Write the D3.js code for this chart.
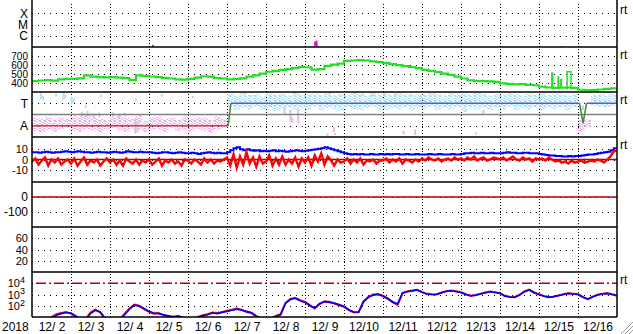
<!DOCTYPE html>
<html>
<head>
<meta charset="utf-8">
<script src="https://cdn.jsdelivr.net/npm/d3@7"></script>
<style>
  html, body { margin: 0; padding: 0; background: #fff; }
  svg { display: block; }
  text { font-family: "Liberation Sans", Arial, sans-serif; font-size: 12px; fill: #000; }
</style>
</head>
<body>
<div id="chart"></div>
<script>
// ---- data ----
const yearLabel = "2018";
const dayLabels = ["12/ 2","12/ 3","12/ 4","12/ 5","12/ 6","12/ 7","12/ 8","12/ 9","12/10","12/11","12/12","12/13","12/14","12/15","12/16"];
const labelDays = [0.5,1.5,2.5,3.5,4.5,5.5,6.5,7.5,8.5,9.5,10.5,11.5,12.5,13.5,14.5];
const gridDays = [1,2,3,4,5,6,7,8,9,10,11,12,13,14];

// panel 1: x-ray class
const xrayTicks = [1e-4, 1e-5, 1e-6];
const xrayTickLabels = ["X", "M", "C"];
const xrayDays = [0, 3.08, 3.1, 3.12, 7.24, 7.26, 7.28, 7.3, 7.32, 13.55, 13.57, 13.59, 15];
const xrayLog  = [-7.6, -7.5, -6.8, -7.5, -7.5, -6.5, -6.7, -6.55, -7.5, -7.6, -6.95, -7.6, -7.6];

// panel 2: solar wind speed, every 4 h
const speedTicks = [700, 600, 500, 400];
const speed = [
  420, 428, 432, 426, 440, 445,
  445, 452, 485, 470, 465, 462,
  465, 460, 455, 432, 485, 478,
  472, 465, 455, 450, 440, 438,
  445, 460, 475, 470, 455, 450,
  440, 445, 452, 470, 485, 505,
  525, 535, 545, 555, 565, 578,
  575, 548, 555, 590, 605, 615,
  645, 650, 655, 650, 640, 632,
  620, 610, 598, 588, 578, 565,
  545, 535, 520, 505, 490, 470,
  450, 430, 422, 420, 418, 412,
  395, 390, 385, 388, 380, 375,
  360, 350, 345, 348, 350, 345,
  325, 322, 320, 328, 335, 340,
  350
];
// spikes: [start day, end day, base, peak]
const speedSpikes = [[13.33, 13.35, 350, 511], [13.49, 13.5, 348, 467], [13.56, 13.57, 346, 440], [13.72, 13.82, 330, 526]];

// panel 3: field polarity (T / A)
const sectorTicks = [75, 25];
const sectorTickLabels = ["T", "A"];
const sectorDays   = [0, 5.03, 5.1, 14.04, 14.13, 14.22, 15];
const sectorValues = [25, 25, 75, 75, 31, 75, 75];
// 4-hour bins: [lo, hi]
const polarityBands = [
  [14,42],[10,40],[16,45],[12,38],[18,44],[20,40],
  [15,46],[12,44],[18,48],[14,42],[10,40],[16,38],
  [20,44],[14,46],[12,42],[18,40],[15,48],[10,36],
  [16,44],[18,46],[12,40],[20,42],[14,38],[16,45],
  [12,40],[18,44],[14,42],[10,38],[16,46],[20,40],
  [66,96],[60,92],[64,98],[62,94],[68,96],[60,90],
  [64,97],[58,94],[62,96],[66,92],[60,98],[64,94],
  [62,96],[68,95],[60,93],[64,98],[62,92],[58,96],
  [66,94],[62,98],[60,95],[64,92],[68,97],[62,94],
  [60,96],[64,93],[62,97],[66,95],[60,92],[64,96],
  [62,94],[68,98],[60,95],[64,92],[62,97],[66,94],
  [56,96],[64,93],[62,98],[66,95],[60,92],[64,96],
  [62,94],[68,97],[60,95],[64,92],[62,96],[66,94],
  [60,97],[64,93],[62,96],[66,95],[60,92],[64,96],
  [12,38],[20,38],[70,93],[68,95],[66,92],[70,96]
];
// sparse points: [day, lo, hi]
const extraT = [[0.2,84,98],[0.26,82,92],[0.59,90,96],[0.78,82,98],[0.82,86,94],[0.99,72,90],[1.04,76,86],[1.35,64,71],[1.75,88,94],[2.64,80,86],[3.3,90,95],[4.1,86,92]];
const extraA = [[6.65,32,44],[6.8,30,40],[7.72,11,22],[9.5,6,14],[9.8,4,16]];
const extraG = [[1.25,44,56],[1.4,46,58],[1.55,42,52],[1.7,44,54],[2.05,45,55],[2.2,42,50],[2.35,46,54],[2.62,8,42],[2.68,10,36],[6.45,50,66],[6.6,34,60],[6.8,40,62],[7.55,3,8],[7.75,4,9],[8.45,92,97],[8.7,90,96],[9.0,91,98],[9.3,92,97],[9.7,90,95],[11.36,6,10],[11.55,50,60],[14.1,60,70]];

// panel 4: Bt (blue) and Bz (red), every 2 h
const bTicks = [10, 0, -10];
const bt = [
  7,7,6.5,7,7.5,7,6.5,7,7,7.5,8,7.5,
  7,7.5,8,7.5,7,7,6.5,7,7.5,7,7,6.5,
  7,7.5,7,6.5,7,8,7.5,7,7,7.5,7,7,
  7,6.5,6,6.5,7,7,6.5,6,6.5,7,6.5,6,
  6,6.5,6,5.5,6,6.5,7,6.5,6,6.5,6,6,
  7,9,11,12,10,9,10,9,8.5,9,8,8.5,
  8,8.5,9,8,8.5,8,7.5,8,8.5,9,8.5,8,
  8.5,9,9.5,10,10.5,11,12,11,10,9,8,7,
  6,5.5,5,5.5,5,5.5,5,5,5.5,5,5,5.5,
  5,5.5,5,5.5,5.5,5,5,5.5,5,5,5.5,5,
  5,5,5.5,5,5,5.5,5,5,5,5.5,5,5,
  5.5,6,6,6.5,6,6,6.5,6,6,6.5,6,6,
  6,6.5,7,6.5,6.5,6,6,6.5,6.5,6,6,6,
  5.5,5,4.5,4,4,3.5,3.5,3,3,3.5,3,3.5,
  3.5,4,4.5,5,5,5.5,6,6.5,7,7.5,9,11,
  11
];
const bz = [
  -2,1,-5,-1,2,-6,0,-3,1,-5,-2,0,
  -4,1,-6,-2,2,-5,-1,-3,0,-6,-2,1,
  -3,0,-5,-1,-6,1,-2,-4,0,-5,-1,-3,
  0,-5,-2,1,-6,-1,-3,0,-4,-2,-6,0,
  -1,-4,0,-2,-5,1,-3,0,-4,-1,-2,0,
  2,-6,5,-8,3,-5,7,-4,2,-7,3,-4,
  -2,4,-6,1,-5,3,-5,0,-4,2,-7,1,
  -3,2,-6,4,-2,6,-5,3,-1,-6,0,-3,
  -2,1,-4,0,-3,1,-5,-1,-2,0,-4,-1,
  -1,1,-3,0,-2,1,-4,0,-1,-3,0,-2,
  1,-1,2,0,-1,1,-2,0,1,-1,2,0,
  1,-1,2,0,3,-1,1,2,-1,0,2,1,
  0,2,-1,1,3,0,-1,2,0,1,-2,1,
  0,1,-1,2,0,-2,-1,-3,-2,-4,-1,-3,
  -2,-1,-3,-2,-1,-2,0,-1,-3,0,3,8,
  9
];

// panel 5 and 6: scales only
const dstTicks = [0, -100];
const p6Ticks = [60, 40, 20];

// panel 7: electron flux (log10), every 3 h
const fluxTicks = [4, 3, 2];
const fluxBlue = [
  0.5,0.5,0.5,0.6,0.9,1.15,1.3,1.4,
  1.35,1.1,0.8,0.7,1.3,1.6,1.45,0.9,
  0.6,0.5,0.7,1.2,1.7,2.05,1.95,1.75,
  1.5,1.35,1.3,1.2,1.1,1.0,1.1,0.95,
  0.9,0.8,0.95,1.1,1.2,1.35,1.3,1.4,
  1.5,1.6,1.7,1.6,1.5,1.4,1.1,0.9,
  0.9,0.9,1.05,1.2,2.2,2.55,2.66,2.45,
  2.3,2.0,1.8,2.2,2.35,2.3,2.25,2.1,
  1.95,1.65,1.45,1.4,2.35,2.75,2.95,3.0,
  2.85,2.6,2.35,2.15,3.15,3.25,3.32,3.4,
  3.2,3.04,3.0,3.02,3.15,3.28,3.33,3.25,
  3.18,3.0,2.88,2.95,3.04,3.15,3.25,3.18,
  3.1,2.85,2.78,2.75,2.95,3.25,3.4,3.15,
  3.0,2.85,2.75,2.82,2.9,3.0,3.1,3.05,
  3.0,2.75,2.6,2.8,2.96,3.05,3.1,3.0,
  2.87
];
const fluxRed = [
  0.5,0.5,0.5,0.7,1.0,1.25,1.35,1.45,
  1.3,1.0,0.75,0.8,1.4,1.65,1.4,0.85,
  0.55,0.5,0.8,1.3,1.75,2.1,2.0,1.7,
  1.45,1.3,1.35,1.15,1.05,1.05,1.05,0.9,
  0.85,0.85,1.0,1.15,1.25,1.4,1.35,1.45,
  1.55,1.65,1.75,1.65,1.45,1.35,1.05,0.85,
  0.85,0.85,1.1,1.25,2.25,2.6,2.7,2.5,
  2.35,2.05,1.75,2.15,2.4,2.35,2.2,2.05,
  1.9,1.6,1.4,1.45,2.4,2.8,3.0,3.05,
  2.9,2.65,2.3,2.1,3.1,3.3,3.35,3.42,
  3.22,3.06,3.02,3.0,3.18,3.3,3.35,3.28,
  3.2,3.02,2.9,2.93,3.06,3.17,3.27,3.2,
  3.12,2.88,2.8,2.77,2.97,3.27,3.43,3.18,
  3.02,2.88,2.77,2.8,2.92,3.03,3.12,3.07,
  3.02,2.78,2.57,2.78,2.98,3.07,3.12,3.03,
  2.9
];

// ---- layout ----
const W = 633, H = 334;
const left = 32, right = 617;
const top0 = 2, panelH = 45, nPanels = 7;
const panelTop = i => top0 + i * panelH;
const bottom = panelTop(nPanels);

const svg = d3.select("#chart").append("svg")
  .attr("width", W).attr("height", H);

const defs = svg.append("defs");
for (let i = 0; i < nPanels; i++) {
  defs.append("clipPath").attr("id", "clip" + i)
    .append("rect").attr("x", left).attr("y", panelTop(i))
    .attr("width", right - left).attr("height", panelH);
}
// speckle patterns for the polarity scatter
const speckPixels = [[0,0],[3,0],[4,0],[1,1],[4,1],[2,2],[0,3],[3,3],[1,4],[2,4],[4,3],[0,1]];
[["speckT", "#a8e0f2"], ["speckA", "#f1aeec"], ["speckG", "#cccccc"]].forEach(([id, c]) => {
  const p = defs.append("pattern").attr("id", id).attr("patternUnits", "userSpaceOnUse")
    .attr("width", 5).attr("height", 5);
  speckPixels.forEach(([px, py]) => p.append("rect").attr("x", px).attr("y", py)
    .attr("width", 1).attr("height", 1).attr("fill", c));
});

const x = d3.scaleLinear().domain([0, 15]).range([left, right]);

const yX    = d3.scaleLog().domain([1e-7, 1e-3]).range([panelTop(1), panelTop(0)]);
const ySpd  = d3.scaleLinear().domain([300, 800]).range([panelTop(2), panelTop(1)]);
const yPol  = d3.scaleLinear().domain([0, 100]).range([panelTop(3), panelTop(2)]);
const yB    = d3.scaleLinear().domain([-22, 22]).range([panelTop(4), panelTop(3)]);
const yDst  = d3.scaleLinear().domain([-200, 100]).range([panelTop(5), panelTop(4)]);
const yP6   = d3.scaleLinear().domain([0, 80]).range([panelTop(6), panelTop(5)]);
const yFlux = d3.scaleLinear().domain([1, 5]).range([panelTop(7), panelTop(6)]);

// vertical dotted day grid
svg.append("g")
  .attr("transform", `translate(0,${bottom})`)
  .call(d3.axisBottom(x).tickValues(gridDays).tickSize(-(bottom - top0)).tickFormat(""))
  .call(g => g.select(".domain").remove())
  .selectAll("line")
  .attr("stroke", "#000").attr("stroke-dasharray", "1,2")
  .attr("shape-rendering", "crispEdges");

// left axes with dotted horizontal grid
function leftAxis(scale, ticks, fmt, size) {
  const g = svg.append("g").attr("transform", `translate(${left},0)`)
    .call(d3.axisLeft(scale).tickValues(ticks).tickSize(-(right - left)).tickPadding(4)
      .tickFormat(fmt));
  g.select(".domain").remove();
  g.selectAll("line").attr("stroke", "#000").attr("stroke-dasharray", "1,5")
    .attr("shape-rendering", "crispEdges");
  g.selectAll("text").attr("font-family", null).attr("font-size", null)
    .style("fill", "#000").style("font-size", size || "12px");
  return g;
}
leftAxis(yX, xrayTicks, (d, i) => xrayTickLabels[i]);
leftAxis(ySpd, speedTicks, d => d, "10px");
leftAxis(yPol, sectorTicks, (d, i) => sectorTickLabels[i]);
leftAxis(yB, bTicks, d => d, "11px");
leftAxis(yDst, dstTicks, d => d);
leftAxis(yP6, p6Ticks, d => d, "11px");
const fluxAxis = leftAxis(yFlux, fluxTicks, () => "", "11px");
fluxAxis.selectAll(".tick text").attr("x", -7).each(function(d) {
  const t = d3.select(this);
  t.append("tspan").text("10");
  t.append("tspan").attr("dy", "-0.45em").style("font-size", "9px").text(d);
});

// ---- panel 1: x-ray ----
svg.append("path")
  .attr("clip-path", "url(#clip0)")
  .attr("d", d3.line().x((d, i) => x(xrayDays[i])).y(d => yX(Math.pow(10, d)))(xrayLog))
  .attr("fill", "none").attr("stroke", "#e000e0").attr("stroke-width", 1.5);

// ---- panel 2: speed ----
const gSpd = svg.append("g").attr("clip-path", "url(#clip1)");
gSpd.append("path")
  .attr("d", d3.line().x((d, i) => x(i / 6)).y(d => ySpd(d)).curve(d3.curveStepAfter)(speed))
  .attr("fill", "none").attr("stroke", "#22e022").attr("stroke-width", 2.2);
gSpd.selectAll(".spike").data(speedSpikes).join("path")
  .attr("d", d => `M${x(d[0])},${ySpd(d[2])}V${ySpd(d[3])}H${x(d[1])}V${ySpd(d[2])}`)
  .attr("fill", "none").attr("stroke", "#22e022").attr("stroke-width", 1.5);

// ---- panel 3: polarity ----
const gPol = svg.append("g").attr("clip-path", "url(#clip2)");
const binW = x(1 / 6) - x(0);
polarityBands.forEach((b, i) => {
  const x0 = x(i / 6);
  if (b[1] > 50) {
    gPol.append("rect").attr("x", x0).attr("width", binW)
      .attr("y", yPol(b[1])).attr("height", yPol(Math.max(b[0], 50)) - yPol(b[1]))
      .attr("fill", "url(#speckT)");
  }
  if (b[0] < 50) {
    gPol.append("rect").attr("x", x0).attr("width", binW)
      .attr("y", yPol(Math.min(b[1], 50))).attr("height", yPol(b[0]) - yPol(Math.min(b[1], 50)))
      .attr("fill", "url(#speckA)");
  }
});
[[extraT, "#aee2f3"], [extraA, "#f3b2ee"], [extraG, "#cccccc"]].forEach(([pts, c]) => {
  gPol.selectAll(null).data(pts).join("rect")
    .attr("x", d => x(d[0])).attr("width", 2)
    .attr("y", d => yPol(d[2])).attr("height", d => yPol(d[1]) - yPol(d[2]))
    .attr("fill", c);
});
gPol.append("line")
  .attr("x1", left).attr("x2", right).attr("y1", yPol(50)).attr("y2", yPol(50))
  .attr("stroke", "#808080").attr("stroke-width", 1.5);
sectorDays.slice(1).forEach((d, i) => {
  const v0 = sectorValues[i], v1 = sectorValues[i + 1];
  const col = (v0 === v1) ? (v0 > 50 ? "#4d5cdc" : "#d23c3c") : "#3e8a3e";
  gPol.append("line")
    .attr("x1", x(sectorDays[i])).attr("x2", x(d))
    .attr("y1", yPol(v0)).attr("y2", yPol(v1))
    .attr("stroke", col).attr("stroke-width", 1.5);
});

// ---- panel 4: Bt / Bz ----
const gB = svg.append("g").attr("clip-path", "url(#clip3)");
gB.append("line")
  .attr("x1", left).attr("x2", right).attr("y1", yB(0)).attr("y2", yB(0))
  .attr("stroke", "#b00000").attr("stroke-width", 1.5);
gB.append("path")
  .attr("d", d3.line().x((d, i) => x(i / 12)).y(d => yB(d)).curve(d3.curveStepAfter)(bt))
  .attr("fill", "none").attr("stroke", "#0000ff").attr("stroke-width", 2);
gB.append("path")
  .attr("d", d3.line().x((d, i) => x(i / 12)).y(d => yB(d))(bz))
  .attr("fill", "none").attr("stroke", "#ff0000").attr("stroke-width", 2.4);

// ---- panel 5: zero line ----
svg.append("line")
  .attr("x1", left).attr("x2", right).attr("y1", yDst(0)).attr("y2", yDst(0))
  .attr("stroke", "#b00000").attr("stroke-width", 1.5);

// ---- panel 7: electron flux ----
const gF = svg.append("g").attr("clip-path", "url(#clip6)");
gF.append("line")
  .attr("x1", left + 4).attr("x2", right).attr("y1", yFlux(4)).attr("y2", yFlux(4))
  .attr("stroke", "#b00000").attr("stroke-width", 1.5).attr("stroke-dasharray", "10,3,2,3");
gF.append("path")
  .attr("d", d3.line().x((d, i) => x(i / 8)).y(d => yFlux(d))(fluxRed))
  .attr("fill", "none").attr("stroke", "#ff0000").attr("stroke-width", 2);
gF.append("path")
  .attr("d", d3.line().x((d, i) => x(i / 8)).y(d => yFlux(d))(fluxBlue))
  .attr("fill", "none").attr("stroke", "#0000ff").attr("stroke-width", 1.6);

// ---- frame ----
const frame = svg.append("g").attr("stroke", "#000").attr("stroke-width", 1.5);
frame.append("line").attr("x1", left).attr("x2", left).attr("y1", 0).attr("y2", bottom);
frame.append("line").attr("x1", right).attr("x2", right).attr("y1", 0).attr("y2", bottom);
for (let i = 1; i <= nPanels; i++) {
  frame.append("line").attr("x1", left).attr("x2", right)
    .attr("y1", panelTop(i)).attr("y2", panelTop(i));
}

// "rt" tags on the right
[0, 1, 2, 3, 6].forEach(i => {
  svg.append("text").attr("x", right + 3).attr("y", panelTop(i) + 12).text("rt");
});

// date labels
svg.append("g")
  .attr("transform", `translate(0,${bottom})`)
  .call(d3.axisBottom(x).tickValues(labelDays).tickSize(0).tickPadding(5)
    .tickFormat((d, i) => dayLabels[i]))
  .call(g => g.select(".domain").remove())
  .selectAll("text").attr("font-family", null).attr("font-size", null).style("fill", "#000");
svg.append("text").attr("x", 2).attr("y", 331).text(yearLabel);

// window resize grip
[4, 8, 12].forEach(k => {
  svg.append("line").attr("x1", W - k).attr("y1", H).attr("x2", W).attr("y2", H - k)
    .attr("stroke", "#999").attr("stroke-width", 1);
});
</script>
</body>
</html>
